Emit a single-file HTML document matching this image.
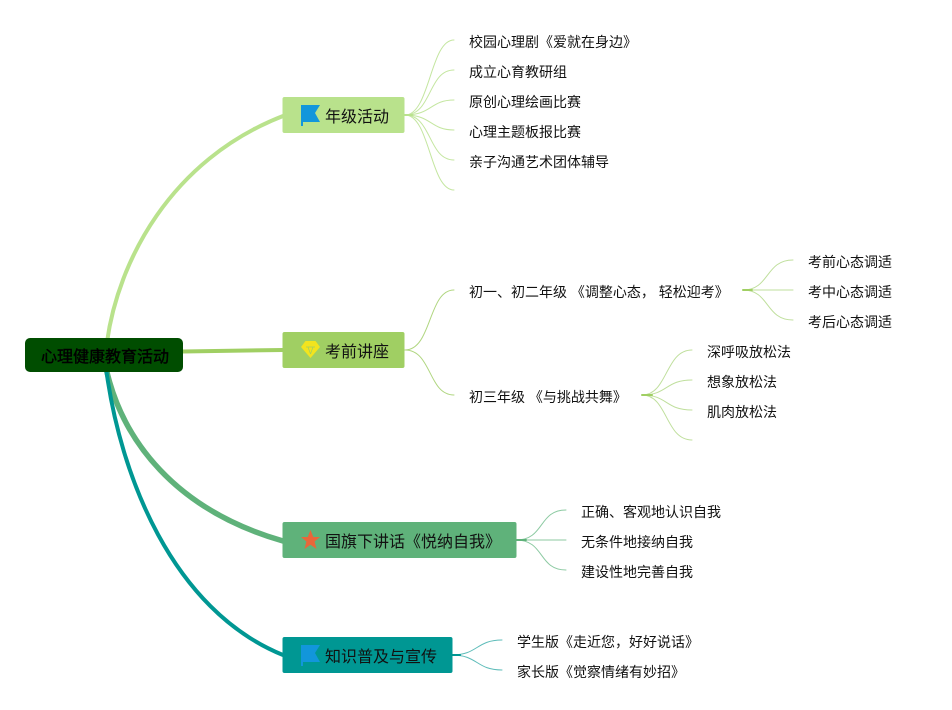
<!DOCTYPE html>
<html lang="zh">
<head>
<meta charset="utf-8">
<style>
html,body{margin:0;padding:0;background:#fff}
svg{display:block}
text{font-family:"Liberation Sans","Noto Sans CJK SC",sans-serif;fill:#111}
.l{font-size:14px}
.b{font-size:16px}
</style>
</head>
<body>
<svg width="952" height="710" viewBox="0 0 952 710" xmlns="http://www.w3.org/2000/svg">
<g fill="none" stroke-linecap="round">
<path d="M107 342C118 262 170 160 283 116" stroke="#b9e28c" stroke-width="4"/>
<path d="M183 351.500L283 350" stroke="#a0cf63" stroke-width="4"/>
<path d="M106 368C122 440 175 510 283 541" stroke="#5fb27a" stroke-width="5.500"/>
<path d="M106 368C120 475 172 610 283 655" stroke="#009793" stroke-width="4"/>
<g stroke="#c4e6a0" stroke-width="1">
<path d="M405 115C430 115 430 40 454 40"/>
<path d="M405 115C432 115 428 70 454 70"/>
<path d="M405 115C432 115 430 100 454 100"/>
<path d="M405 115C432 115 430 130 454 130"/>
<path d="M405 115C432 115 428 160 454 160"/>
<path d="M405 115C430 115 430 190 454 190"/>
</g>
<path d="M404 115H412" stroke="#b9e28c" stroke-width="2"/>
<g stroke="#b0d680" stroke-width="1">
<path d="M405 350C432 350 428 290 454 290"/>
<path d="M405 350C432 350 428 395 454 395"/>
</g>
<g stroke="#bfdf9c" stroke-width="1">
<path d="M743 290C770 290 765 260 793 260"/>
<path d="M743 290H793"/>
<path d="M743 290C770 290 765 320 793 320"/>
<path d="M642 395C668 395 665 350 692 350"/>
<path d="M642 395C668 395 665 380 692 380"/>
<path d="M642 395C668 395 665 410 692 410"/>
<path d="M642 395C668 395 665 440 692 440"/>
</g>
<path d="M743 290H752M642 395H652" stroke="#a0cf63" stroke-width="2"/>
<g stroke="#8ccaa2" stroke-width="1">
<path d="M516 540C545 540 538 510 566 510"/>
<path d="M516 540H566"/>
<path d="M516 540C545 540 538 570 566 570"/>
</g>
<path d="M516 540H526" stroke="#5fb27a" stroke-width="2"/>
<g stroke="#5dbcb9" stroke-width="1">
<path d="M452 655C478 655 476 640 502 640"/>
<path d="M452 655C478 655 476 670 502 670"/>
</g>
<path d="M452 655H460" stroke="#009793" stroke-width="2"/>
</g>

<rect x="25" y="338" width="158" height="34" rx="5" fill="#004d00"/>
<rect x="282.500" y="97" width="122" height="36" rx="2" fill="#b9e28c"/>
<rect x="282.500" y="332" width="122" height="36" rx="2" fill="#a0cf63"/>
<rect x="282.500" y="522" width="234" height="36" rx="2" fill="#5fb27a"/>
<rect x="282.500" y="637" width="170" height="36" rx="2" fill="#009793"/>

<path d="M301 105H320L315 113L320 122H303V126H301Z" fill="#1296db"/>
<path d="M305.500 341H315.500L320 347L310.500 358L301 347Z" fill="#f2e41e"/>
<path d="M306 347H315M308 347L310.500 354M313 347L310.500 354" stroke="#a0cf63" stroke-width="0.700" fill="none"/>
<path d="M310.500 530L313.300 537H320L314.600 541.500L316.500 549L310.500 544.700L304.500 549L306.400 541.500L301 537H307.700Z" fill="#e8673a"/>
<path d="M301 645H320L315 653L320 662H303V666H301Z" fill="#1296db"/>

<text class="b" x="41" y="362" stroke="#000" stroke-width="0.400" style="fill:#000">心理健康教育活动</text>
<text class="b" x="325" y="122">年级活动</text>
<text class="b" x="325" y="357">考前讲座</text>
<text class="b" x="325" y="547">国旗下讲话《悦纳自我》</text>
<text class="b" x="325" y="662">知识普及与宣传</text>

<text class="l" x="469" y="47">校园心理剧《爱就在身边》</text>
<text class="l" x="469" y="77">成立心育教研组</text>
<text class="l" x="469" y="107">原创心理绘画比赛</text>
<text class="l" x="469" y="137">心理主题板报比赛</text>
<text class="l" x="469" y="167">亲子沟通艺术团体辅导</text>
<text class="l" x="469" y="297" xml:space="preserve">初一、初二年级 《调整心态， 轻松迎考》</text>
<text class="l" x="469" y="402" xml:space="preserve">初三年级 《与挑战共舞》</text>
<text class="l" x="808" y="267">考前心态调适</text>
<text class="l" x="808" y="297">考中心态调适</text>
<text class="l" x="808" y="327">考后心态调适</text>
<text class="l" x="707" y="357">深呼吸放松法</text>
<text class="l" x="707" y="387">想象放松法</text>
<text class="l" x="707" y="417">肌肉放松法</text>
<text class="l" x="581" y="517">正确、客观地认识自我</text>
<text class="l" x="581" y="547">无条件地接纳自我</text>
<text class="l" x="581" y="577">建设性地完善自我</text>
<text class="l" x="517" y="647">学生版《走近您，好好说话》</text>
<text class="l" x="517" y="677">家长版《觉察情绪有妙招》</text>
</svg>
</body>
</html>
